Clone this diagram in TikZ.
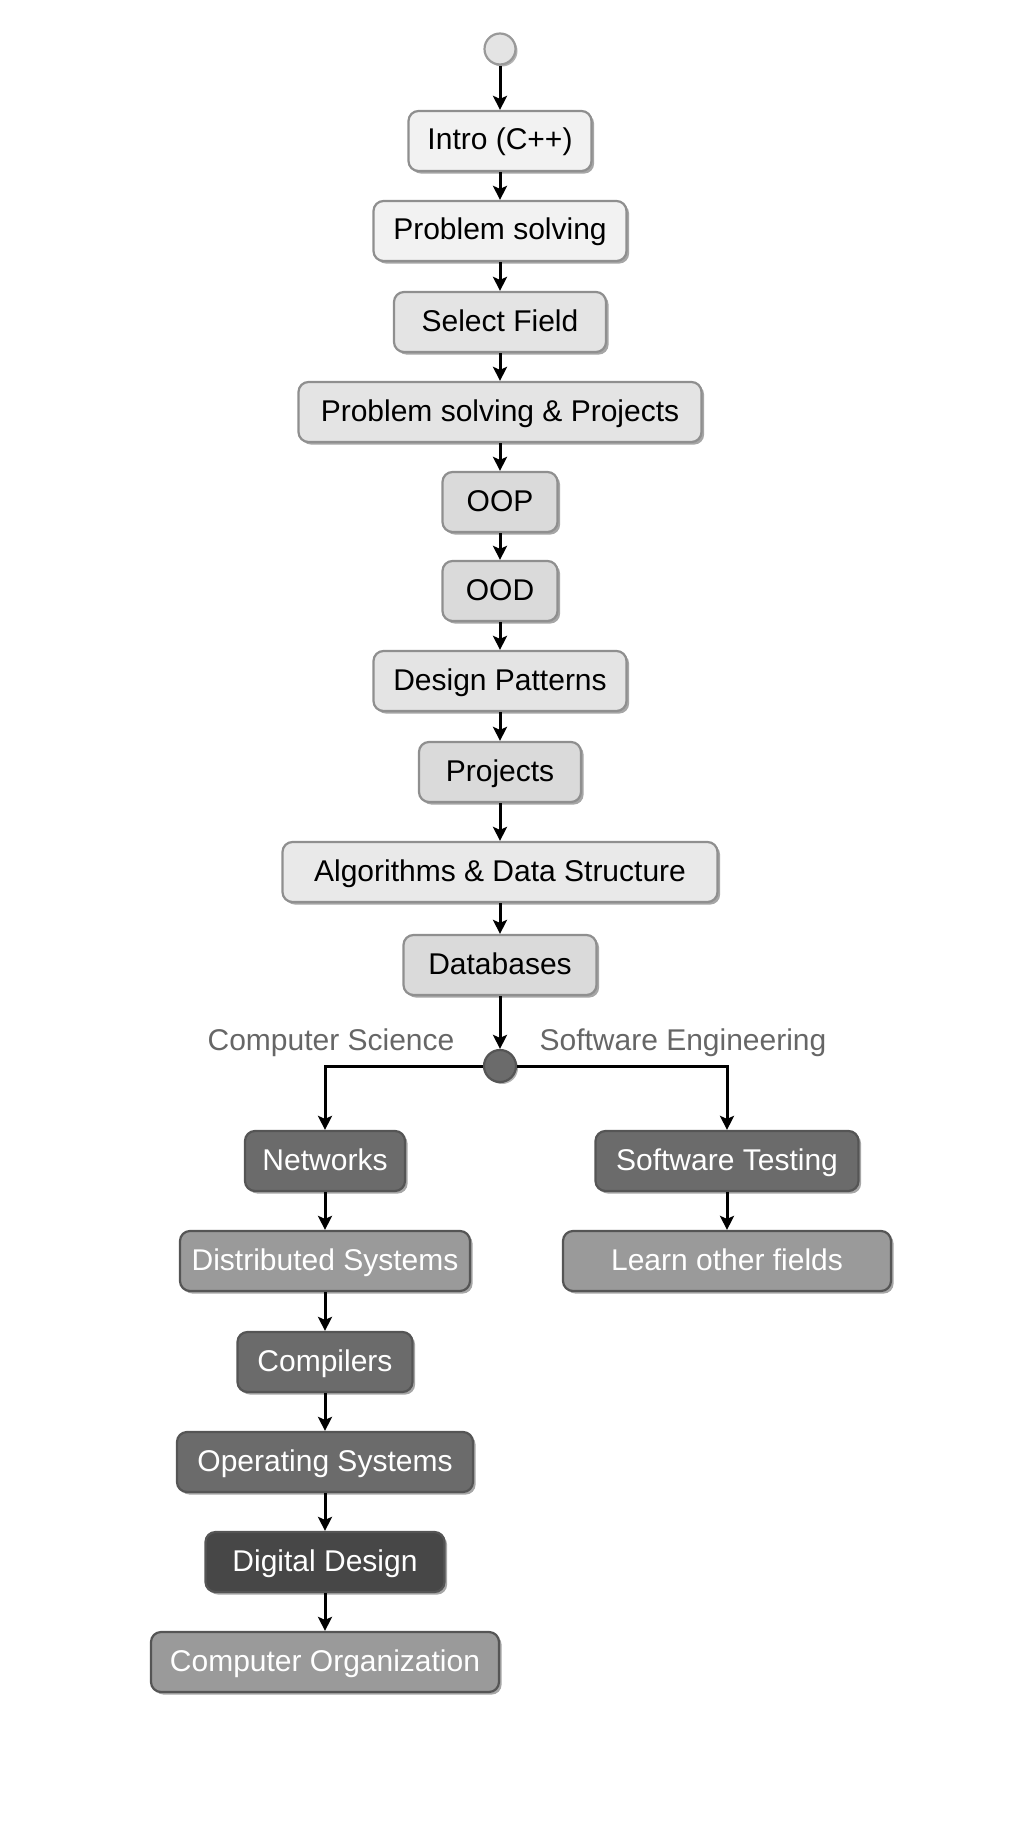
\documentclass[tikz,border=0pt]{standalone}
\usepackage{fontspec}
\setmainfont{Liberation Sans}
\usetikzlibrary{arrows.meta,shadows}
\definecolor{lA}{HTML}{F2F2F2}
\definecolor{lB}{HTML}{E4E4E4}
\definecolor{lC}{HTML}{DADADA}
\definecolor{lD}{HTML}{E9E9E9}
\definecolor{dA}{HTML}{6B6B6B}
\definecolor{dB}{HTML}{9A9A9A}
\definecolor{dC}{HTML}{474747}
\definecolor{bordL}{HTML}{8F8F8F}
\definecolor{bordD}{HTML}{555555}
\definecolor{lbl}{HTML}{666666}
\tikzset{
  box/.style={rectangle, rounded corners=5pt, line width=1.1pt, minimum height=30pt,
    inner sep=0pt, font=\fontsize{15}{18}\selectfont, text height=12pt, text depth=3pt,
    drop shadow={shadow xshift=1.3pt, shadow yshift=-1.3pt, opacity=0.35, fill=black}},
  lbox/.style={box, draw=bordL, text=black},
  dbox/.style={box, draw=bordD, text=white},
  conn/.style={-{Stealth[length=7pt,width=7pt,inset=1.5pt]}, line width=1.5pt, black},
  blab/.style={font=\fontsize{15}{18}\selectfont, text=lbl, inner sep=0pt, text height=12pt, text depth=3pt},
}
\begin{document}
\begin{tikzpicture}[x=0.5pt,y=-0.5pt]
\useasboundingbox (0,0) rectangle (1030,1846);
\node[circle, draw=gray!80, line width=1.1pt, fill=lB, minimum size=15.5pt, inner sep=0pt,
  drop shadow={shadow xshift=1pt, shadow yshift=-1pt, opacity=0.3, fill=black}] (start) at (500,49) {};
\node[lbox, fill=lA, minimum width=91.5pt] (intro) at (500,141) {Intro (C++)};
\node[lbox, fill=lA, minimum width=126.5pt] (ps) at (500,231) {Problem solving};
\node[lbox, fill=lB, minimum width=106pt] (sf) at (500,322) {Select Field};
\node[lbox, fill=lB, minimum width=201.5pt] (psp) at (500,412) {Problem solving \& Projects};
\node[lbox, fill=lC, minimum width=57.5pt] (oop) at (500,502) {OOP};
\node[lbox, fill=lC, minimum width=57.5pt] (ood) at (500,591) {OOD};
\node[lbox, fill=lB, minimum width=126.5pt] (dp) at (500,681) {Design Patterns};
\node[lbox, fill=lC, minimum width=81pt] (proj) at (500,772) {Projects};
\node[lbox, fill=lD, minimum width=217.5pt] (algo) at (500,872) {Algorithms \& Data Structure};
\node[lbox, fill=lC, minimum width=96.5pt] (db) at (500,965) {Databases};
\node[circle, draw=bordD, line width=1.1pt, fill=dA, minimum size=16pt, inner sep=0pt,
  drop shadow={shadow xshift=1pt, shadow yshift=-1pt, opacity=0.3, fill=black}] (junc) at (500,1066) {};
\node[blab] (cs) at (331,1041) {Computer Science};
\node[blab] (se) at (683,1041) {Software Engineering};
\node[dbox, fill=dA, minimum width=80pt] (net) at (325,1161) {Networks};
\node[dbox, fill=dA, minimum width=131.5pt] (st) at (727,1161) {Software Testing};
\node[dbox, fill=dB, minimum width=145pt] (ds) at (325,1261) {Distributed Systems};
\node[dbox, fill=dB, minimum width=164pt] (lof) at (727,1261) {Learn other fields};
\node[dbox, fill=dA, minimum width=87.5pt] (comp) at (325,1362) {Compilers};
\node[dbox, fill=dA, minimum width=148pt] (os) at (325,1462) {Operating Systems};
\node[dbox, fill=dC, minimum width=119.5pt] (dd) at (325,1562) {Digital Design};
\node[dbox, fill=dB, minimum width=174pt] (co) at (325,1662) {Computer Organization};
\draw[conn] (start) -- (intro);
\draw[conn] (intro) -- (ps);
\draw[conn] (ps) -- (sf);
\draw[conn] (sf) -- (psp);
\draw[conn] (psp) -- (oop);
\draw[conn] (oop) -- (ood);
\draw[conn] (ood) -- (dp);
\draw[conn] (dp) -- (proj);
\draw[conn] (proj) -- (algo);
\draw[conn] (algo) -- (db);
\draw[conn] (db) -- (junc);
\draw[conn] (junc) -| (net);
\draw[conn] (junc) -| (st);
\draw[conn] (net) -- (ds);
\draw[conn] (st) -- (lof);
\draw[conn] (ds) -- (comp);
\draw[conn] (comp) -- (os);
\draw[conn] (os) -- (dd);
\draw[conn] (dd) -- (co);
\end{tikzpicture}
\end{document}
